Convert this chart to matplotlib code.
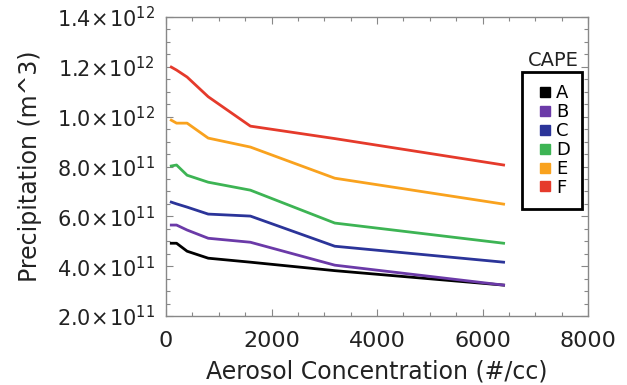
import matplotlib
matplotlib.use("Agg")
import matplotlib.pyplot as plt
from matplotlib.ticker import MultipleLocator, FuncFormatter
from matplotlib.lines import Line2D

aerosol = [100, 200, 400, 800, 1600, 3200, 6400]
cape_labels = ["A", "B", "C", "D", "E", "F"]
precip_A = [0.492e12, 0.492e12, 0.460e12, 0.432e12, 0.416e12, 0.382e12, 0.324e12]
precip_B = [0.565e12, 0.565e12, 0.545e12, 0.512e12, 0.496e12, 0.404e12, 0.324e12]
precip_C = [0.657e12, 0.650e12, 0.637e12, 0.609e12, 0.601e12, 0.480e12, 0.416e12]
precip_D = [0.802e12, 0.806e12, 0.765e12, 0.737e12, 0.705e12, 0.573e12, 0.492e12]
precip_E = [0.986e12, 0.974e12, 0.974e12, 0.914e12, 0.878e12, 0.753e12, 0.649e12]
precip_F = [1.199e12, 1.187e12, 1.159e12, 1.080e12, 0.962e12, 0.912e12, 0.806e12]
series = [precip_A, precip_B, precip_C, precip_D, precip_E, precip_F]
colors = ["#000000", "#6b3aa8", "#2b3499", "#3db454", "#f9a21e", "#e53a2b"]

plt.rcParams["font.family"] = ["DejaVu Sans"]
plt.rcParams["mathtext.fontset"] = "dejavusans"

fig = plt.figure(figsize=(6.27, 3.85), dpi=100)
ax = fig.add_axes([166/627, 1-316/385, (588-166)/627, (316-17)/385])

for vals, c in zip(series, colors):
    ax.plot(aerosol, vals, color=c, lw=2.0, solid_joinstyle="round")

ax.set_xlim(0, 8000)
ax.set_ylim(2e11, 1.4e12)
ax.xaxis.set_major_locator(MultipleLocator(2000))
ax.xaxis.set_minor_locator(MultipleLocator(500))
ax.yaxis.set_major_locator(MultipleLocator(2e11))
ax.yaxis.set_minor_locator(MultipleLocator(5e10))

def yfmt(v, pos):
    e = 0
    m = v
    while m >= 10:
        m /= 10
        e += 1
    return r"$%.1f\!\times\!10^{%d}$" % (m, e)

ax.yaxis.set_major_formatter(FuncFormatter(yfmt))

for s in ax.spines.values():
    s.set_color("#888888")
    s.set_linewidth(1.0)
ax.tick_params(which="both", direction="in", top=True, right=True, color="#888888", width=0.8)
ax.tick_params(which="major", length=5)
ax.tick_params(which="minor", length=3)
ax.tick_params(axis="x", which="major", labelsize=16, pad=11, labelcolor="#222222")
ax.tick_params(axis="y", which="major", labelsize=15, pad=8, labelcolor="#222222")

ax.set_xlabel("Aerosol Concentration (#/cc)", fontsize=17, color="#222222", labelpad=6)
ax.set_ylabel("Precipitation (m^3)", fontsize=17, color="#222222", labelpad=11)

handles = [Line2D([], [], marker="s", linestyle="none", color=c, markersize=7) for c in colors]
leg = ax.legend(handles, cape_labels, loc="upper left",
                bbox_to_anchor=(522/627, 1-72/385), bbox_transform=fig.transFigure,
                fontsize=13, frameon=True, fancybox=False, framealpha=1,
                handlelength=1.2, handletextpad=0.0, labelspacing=0.05,
                borderpad=0.68, borderaxespad=0)
leg.get_frame().set_edgecolor("black")
leg.get_frame().set_linewidth(2)
fig.text(553/627, 1-60/385, "CAPE", fontsize=14, ha="center", va="center", color="#222222")

fig.savefig("out.png", dpi=100)
